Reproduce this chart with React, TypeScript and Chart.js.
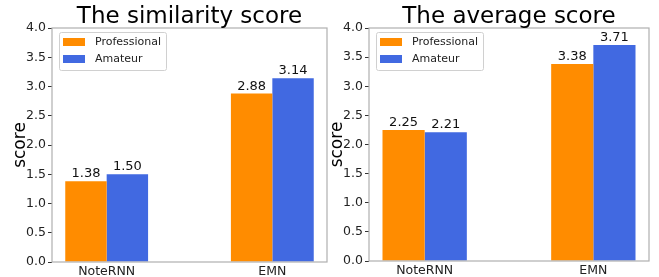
import React, { useEffect, useRef } from 'react';
import { Chart, registerables } from 'chart.js';

Chart.register(...registerables);

const categories = ['NoteRNN', 'EMN'];
const seriesNames = ['Professional', 'Amateur'];
const seriesColors = ['#FF8C00', '#4169E1'];
const similarityProfessional = [1.38, 2.88];
const similarityAmateur = [1.5, 3.14];
const averageProfessional = [2.25, 3.38];
const averageAmateur = [2.21, 3.71];
const yTickValues = [0, 0.5, 1, 1.5, 2, 2.5, 3, 3.5, 4];

const FONT = "'DejaVu Sans', sans-serif";

type Panel = {
  title: string;
  values: number[][];
  width: number;
  height: number;
  plotLeft: number;
  plotRight: number;
  plotTop: number;
  plotBottom: number;
  yLabelX: number;
};

function makeConfig(p: Panel): any {
  const decorations = {
    id: 'decorations',
    afterDatasetsDraw(chart: any) {
      const ctx = chart.ctx;
      const a = chart.chartArea;
      ctx.save();
      // frame
      ctx.strokeStyle = '#b0b0b0';
      ctx.lineWidth = 1.2;
      ctx.strokeRect(a.left, a.top, a.right - a.left, a.bottom - a.top);
      // value labels
      ctx.fillStyle = '#111';
      ctx.font = `13px ${FONT}`;
      ctx.textAlign = 'center';
      ctx.textBaseline = 'alphabetic';
      chart.data.datasets.forEach((ds: any, di: number) => {
        const meta = chart.getDatasetMeta(di);
        meta.data.forEach((el: any, i: number) => {
          ctx.fillText(ds.data[i].y.toFixed(2), el.x, el.y - 4);
        });
      });
      // legend
      const bx = a.left + 7;
      const by = a.top + 4;
      const bw = 107;
      const bh = 38;
      ctx.fillStyle = 'rgba(255,255,255,0.85)';
      ctx.strokeStyle = '#d0d0d0';
      ctx.lineWidth = 1;
      ctx.beginPath();
      (ctx as any).roundRect(bx + 0.5, by + 0.5, bw, bh, 2);
      ctx.fill();
      ctx.stroke();
      ctx.font = `11px ${FONT}`;
      ctx.textAlign = 'left';
      ctx.textBaseline = 'middle';
      chart.data.datasets.forEach((ds: any, di: number) => {
        const cy = by + 10 + di * 17;
        ctx.fillStyle = ds.backgroundColor;
        ctx.fillRect(bx + 4, cy - 4, 22, 8);
        ctx.fillStyle = '#222';
        ctx.fillText(ds.label, bx + 36, cy + 0.5);
      });
      // title
      ctx.fillStyle = '#000';
      ctx.font = `23px ${FONT}`;
      ctx.textAlign = 'center';
      ctx.textBaseline = 'alphabetic';
      ctx.fillText(p.title, (a.left + a.right) / 2, 23);
      // y label
      ctx.translate(p.yLabelX, (a.top + a.bottom) / 2);
      ctx.rotate(-Math.PI / 2);
      ctx.font = `17px ${FONT}`;
      ctx.textBaseline = 'middle';
      ctx.fillText('score', 0, 0);
      ctx.restore();
    },
  };

  return {
    type: 'bar',
    data: {
      datasets: seriesNames.map((name, si) => ({
        label: name,
        data: categories.map((_, ci) => ({ x: ci, y: p.values[si][ci] })),
        backgroundColor: seriesColors[si],
        borderWidth: 0,
        categoryPercentage: 0.5,
        barPercentage: 1.0,
      })),
    },
    options: {
      responsive: false,
      animation: false,
      layout: {
        padding: { left: 0, right: p.width - p.plotRight, top: p.plotTop, bottom: 0 },
      },
      plugins: {
        legend: { display: false },
        title: { display: false },
        tooltip: { enabled: false },
      },
      scales: {
        x: {
          type: 'linear',
          offset: false,
          bounds: 'data',
          min: -0.33,
          max: 1.33,
          afterBuildTicks: (s: any) => {
            s.ticks = categories.map((_, i) => ({ value: i }));
          },
          afterFit: (s: any) => {
            s.height = p.height - p.plotBottom;
          },
          grid: { display: false, drawTicks: false, tickLength: 0, offset: false },
          border: { display: false },
          ticks: {
            autoSkip: false,
            maxRotation: 0,
            padding: 2,
            color: '#222',
            font: { family: FONT, size: 12.5 },
            callback: (v: any) => categories[Math.round(v)] ?? '',
          },
        },
        y: {
          min: 0,
          max: 4,
          afterBuildTicks: (s: any) => {
            s.ticks = yTickValues.map((v) => ({ value: v }));
          },
          afterFit: (s: any) => {
            s.width = p.plotLeft;
          },
          grid: {
            display: true,
            drawOnChartArea: false,
            drawTicks: true,
            tickLength: 4,
            color: '#333',
          },
          border: { display: false },
          ticks: {
            autoSkip: false,
            padding: 2,
            color: '#222',
            font: { family: FONT, size: 12.5 },
            callback: (v: any) => Number(v).toFixed(1),
          },
        },
      },
    },
    plugins: [decorations],
  };
}

function ChartPanel({ panel }: { panel: Panel }) {
  const ref = useRef<HTMLCanvasElement | null>(null);
  useEffect(() => {
    if (!ref.current) return;
    const chart = new Chart(ref.current, makeConfig(panel));
    return () => chart.destroy();
  }, [panel]);
  return (
    <canvas
      ref={ref}
      width={panel.width}
      height={panel.height}
      style={{ display: 'block', width: panel.width, height: panel.height }}
    />
  );
}

const leftPanel: Panel = {
  title: 'The similarity score',
  values: [similarityProfessional, similarityAmateur],
  width: 330,
  height: 277,
  plotLeft: 52,
  plotRight: 327,
  plotTop: 28,
  plotBottom: 262,
  yLabelX: 21,
};

const rightPanel: Panel = {
  title: 'The average score',
  values: [averageProfessional, averageAmateur],
  width: 329,
  height: 277,
  plotLeft: 39,
  plotRight: 319,
  plotTop: 28,
  plotBottom: 261,
  yLabelX: 8,
};

export default function App() {
  return (
    <div
      style={{
        position: 'fixed',
        left: 0,
        top: 0,
        width: 659,
        height: 277,
        display: 'flex',
        background: '#fff',
      }}
    >
      <ChartPanel panel={leftPanel} />
      <ChartPanel panel={rightPanel} />
    </div>
  );
}
